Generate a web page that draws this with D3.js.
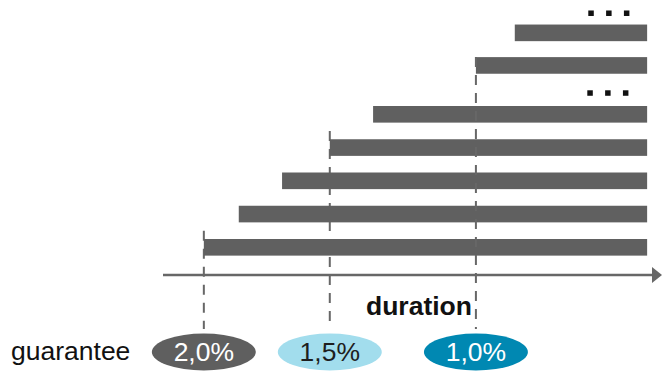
<!DOCTYPE html>
<html>
<head>
<meta charset="utf-8">
<script src="https://cdn.jsdelivr.net/npm/d3@7/dist/d3.min.js"></script>
<style>
  html, body { margin: 0; padding: 0; background: #fff; }
  svg { display: block; font-family: "Liberation Sans", Arial, sans-serif; }
</style>
</head>
<body>
<svg id="chart" width="662" height="371"></svg>
<script>
// Contract start points along the duration axis (0–100 units), bottom to top
const barStarts = [8.3, 15.4, 24.2, 33.9, 42.7, 63.6, 71.5];
// Vertical slot of each contract row (0 = lowest row)
const barSlots = [0, 1, 2, 3, 4, 5.47, 6.45];
// All contracts run to the same end point
const barEnd = 98.4;
// Rows of "more contracts" ellipsis dots: slot and duration of the first dot
const dotSlots = [4.64, 7.04];
const dotStarts = [86.8, 87.0];
const dotOffsets = [0, 1, 2];
// Guarantee rates and the duration at which each one applies
const guaranteeLabels = ["2,0%", "1,5%", "1,0%"];
const guaranteeAt = [8.3, 33.9, 63.6];
const guaranteeFill = ["#5f5f5f", "#a2dded", "#0088b2"];
const guaranteeText = ["#ffffff", "#1e1e1e", "#ffffff"];
// Row slot from which each guarantee's marker line starts
const guaranteeFromSlot = [0.25, 3.25, 5.47];

const svg = d3.select("#chart");

const x = d3.scaleLinear().domain([0, 100]).range([163, 655]);
const y = d3.scaleLinear().domain([0, 7]).range([239, 239 - 7 * 33.25]);
const barH = y(0) - y(0.5);

const axisY = 275;
const lineEndY = 329;
const grey = "#676767";
const fontSize = 26.5;

// dashed marker lines (the first two sit behind the bars)
const guides = guaranteeAt.map((v, i) => ({ v, i, from: guaranteeFromSlot[i] }));
function drawGuide(sel) {
  sel.append("line")
    .attr("x1", d => x(d.v)).attr("x2", d => x(d.v))
    .attr("y1", d => y(d.from))
    .attr("y2", lineEndY)
    .attr("stroke", grey)
    .attr("stroke-width", 2)
    .attr("stroke-dasharray", "10,8");
}
svg.append("g").selectAll("g").data(guides.slice(0, 2)).join("g").call(drawGuide);

// contract bars
svg.append("g").selectAll("rect")
  .data(barStarts.map((s, i) => ({ s, slot: barSlots[i] })))
  .join("rect")
  .attr("x", d => x(d.s))
  .attr("y", d => y(d.slot))
  .attr("width", d => x(barEnd) - x(d.s))
  .attr("height", barH)
  .attr("fill", "#606060");

svg.append("g").selectAll("g").data(guides.slice(2)).join("g").call(drawGuide);

// ellipsis dots
const dotStep = 3.62;
svg.append("g").selectAll("g")
  .data(dotSlots.map((s, i) => ({ s, start: dotStarts[i] })))
  .join("g")
  .selectAll("rect")
  .data(r => dotOffsets.map(k => ({ s: r.s, v: r.start + k * dotStep })))
  .join("rect")
  .attr("x", d => x(d.v) - 2.75)
  .attr("y", d => y(d.s) + barH / 2 - 2.75)
  .attr("width", 5.5)
  .attr("height", 5.5)
  .attr("fill", "#111");

// duration axis with arrow head
svg.append("line")
  .attr("x1", x(0)).attr("x2", 653)
  .attr("y1", axisY).attr("y2", axisY)
  .attr("stroke", grey).attr("stroke-width", 2.5);
svg.append("path")
  .attr("d", d3.line()([[652, axisY - 8], [662, axisY], [652, axisY + 8]]) + "Z")
  .attr("fill", grey);

svg.append("text")
  .attr("x", 472).attr("y", 315)
  .attr("text-anchor", "end")
  .attr("font-size", fontSize)
  .attr("font-weight", "bold")
  .attr("fill", "#111")
  .text("duration");

// guarantee badges
svg.append("text")
  .attr("x", 11).attr("y", 360)
  .attr("font-size", fontSize)
  .attr("fill", "#111")
  .text("guarantee");

const badges = svg.append("g").selectAll("g")
  .data(guaranteeLabels.map((t, i) => ({ t, i, v: guaranteeAt[i] })))
  .join("g")
  .attr("transform", d => `translate(${x(d.v)},352)`);
badges.append("ellipse")
  .attr("rx", 52).attr("ry", 18.5)
  .attr("fill", d => guaranteeFill[d.i]);
badges.append("text")
  .attr("y", 9)
  .attr("text-anchor", "middle")
  .attr("font-size", fontSize)
  .attr("fill", d => guaranteeText[d.i])
  .text(d => d.t);
</script>
</body>
</html>
